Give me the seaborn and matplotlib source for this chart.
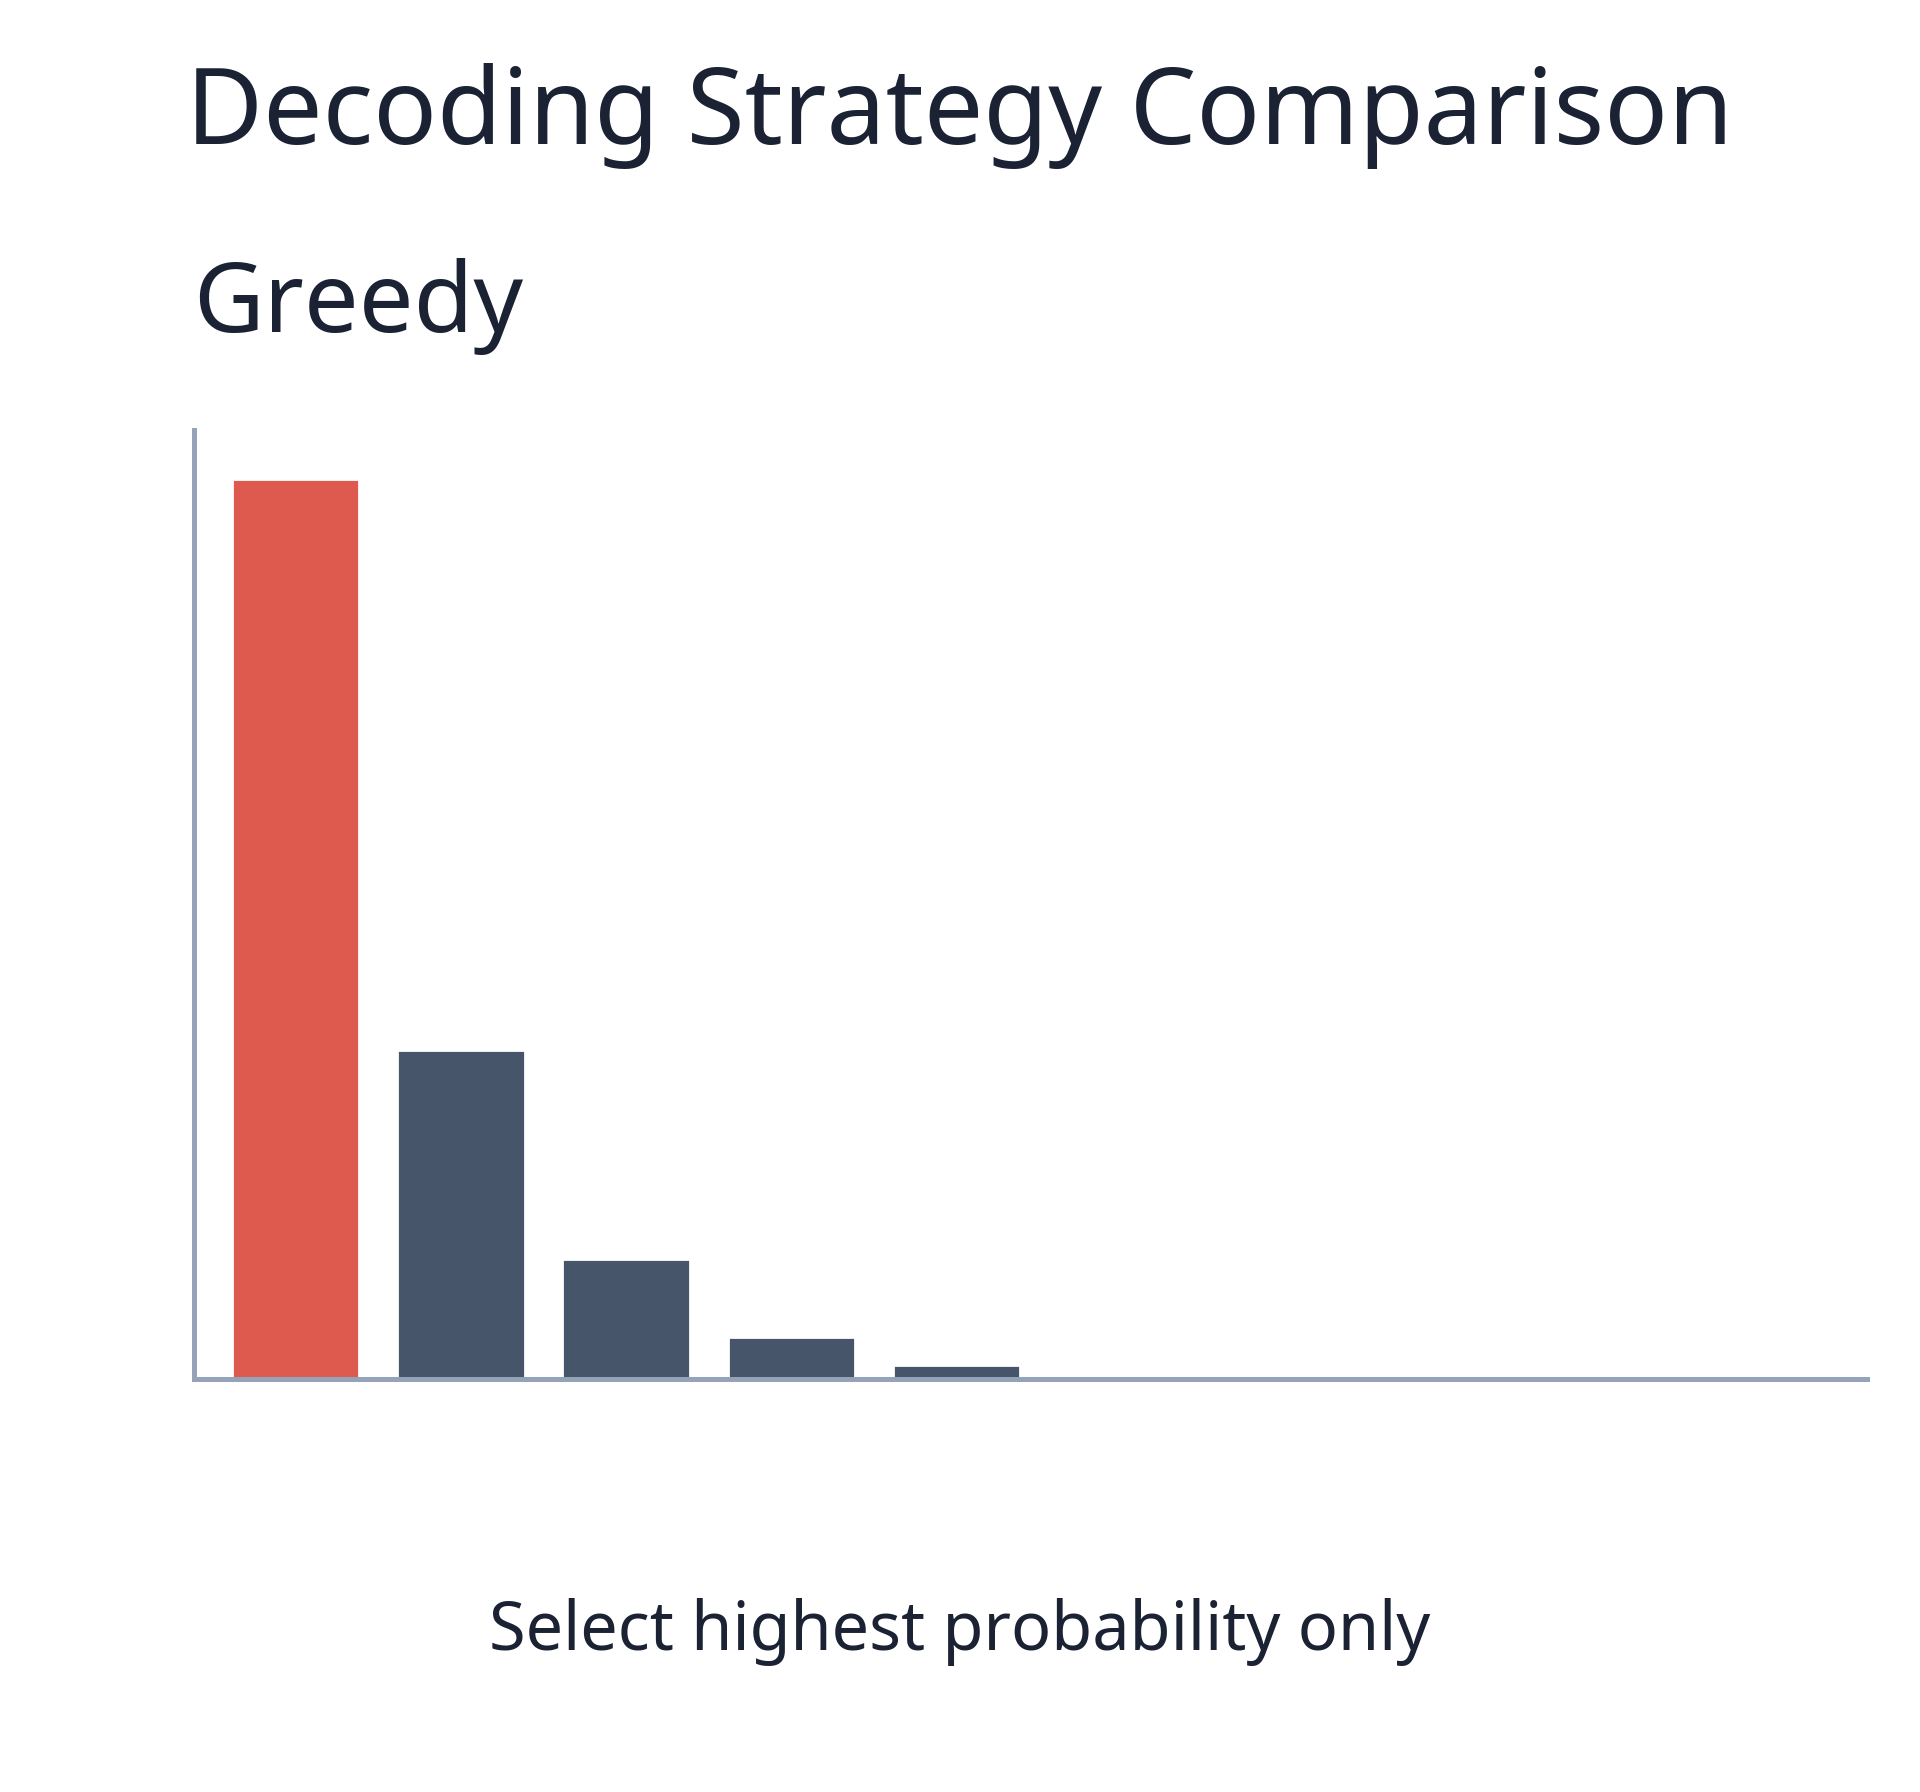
import matplotlib
matplotlib.use("Agg")
import matplotlib.pyplot as plt
import seaborn as sns
import pandas as pd

tokens = [f"t{i}" for i in range(1, 11)]
probs = [0.62, 0.227, 0.083, 0.029, 0.010, 0.0025, 0.0006, 0.0003, 0.0002, 0.0001]
colors = ["#DF5A4E"] + ["#465569"] * 9

sns.set_theme(style="white")
plt.rcParams['font.family'] = ['Noto Sans', 'DejaVu Sans']

fig = plt.figure(figsize=(9.6, 8.96), dpi=200)
ax = fig.add_axes([0.1008, 0.2302, 0.8718, 0.53])
df = pd.DataFrame({"token": tokens, "p": probs})
sns.barplot(data=df, x="token", y="p", hue="token", palette=colors, legend=False,
            ax=ax, width=0.77, saturation=1)
ax.set_ylim(0, 0.654)
ax.set_xlim(-0.62, 9.52)
ax.set_xticks([]); ax.set_yticks([])
ax.set_xlabel(""); ax.set_ylabel("")
for s in ["top", "right"]:
    ax.spines[s].set_visible(False)
for s in ["left", "bottom"]:
    ax.spines[s].set_color("#94A3B8")
    ax.spines[s].set_linewidth(1.8)

txt = "#1A2233"
fig.text(0.5, 0.935, "Decoding Strategy Comparison", ha="center", va="center", fontsize=38, color=txt)
fig.text(0.1008, 0.829, "Greedy", ha="left", va="center", fontsize=35, color=txt)
fig.text(0.5, 0.0895, "Select highest probability only", ha="center", va="center", fontsize=24, color=txt)
fig.savefig("out.png", dpi=200, facecolor="white")
